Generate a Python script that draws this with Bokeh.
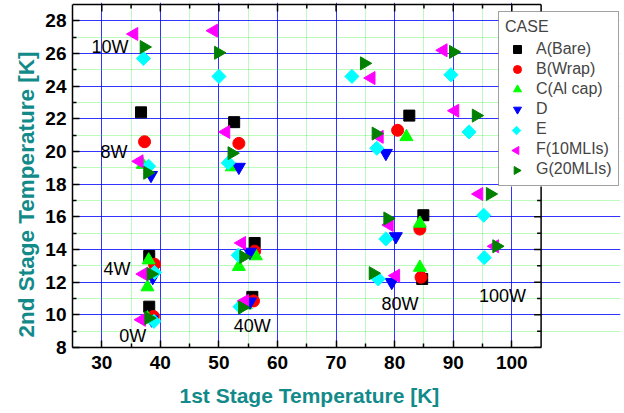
import numpy as np
from bokeh.plotting import figure
from bokeh.models import (FixedTicker, Range1d, Legend, LegendItem, ColumnDataSource, Title)
from bokeh.core.properties import value
from bokeh.embed import file_html
from bokeh.resources import INLINE

# ---- data ----
case_names = ["A(Bare)", "B(Wrap)", "C(Al cap)", "D", "E", "F(10MLIs)", "G(20MLIs)"]

a_x = [38.1, 38.1, 36.7, 52.6, 56.1, 55.7, 82.5, 84.9, 84.7]
a_y = [10.5, 13.6, 22.4, 21.8, 14.4, 11.1, 22.2, 16.1, 12.2]

b_x = [38.8, 39.0, 37.3, 53.4, 56.1, 55.9, 80.5, 84.3, 84.5]
b_y = [9.9, 13.1, 20.6, 20.5, 13.9, 10.85, 21.3, 15.25, 12.3]

c_x = [37.8, 38.0, 37.8, 37.0, 52.2, 56.3, 53.4, 54.6, 82.0, 84.3, 84.3]
c_y = [9.8, 13.35, 11.7, 19.2, 19.05, 13.6, 12.95, 10.6, 20.9, 15.6, 12.9]

d_x = [38.5, 38.7, 38.4, 53.4, 55.3, 55.3, 78.5, 80.2, 79.5]
d_y = [9.7, 12.3, 18.55, 19.05, 13.85, 10.8, 19.9, 14.8, 12.0]

e_x = [38.9, 39.0, 38.0, 37.1, 50.0, 51.6, 53.3, 53.6, 72.7, 76.95, 78.5, 77.2, 89.6, 92.7, 95.2, 95.3]
e_y = [9.6, 12.6, 19.1, 25.7, 24.6, 19.3, 13.65, 10.5, 24.6, 20.2, 14.65, 12.2, 24.7, 21.2, 16.1, 13.5]

f_x = [36.8, 37.1, 36.4, 35.5, 49.1, 51.2, 53.9, 54.4, 76.0, 77.4, 79.1, 80.2, 88.3, 90.3, 94.4, 97.1]
f_y = [9.7, 12.5, 19.4, 27.2, 27.4, 21.2, 14.4, 10.85, 24.5, 20.9, 15.5, 12.4, 26.2, 22.5, 17.4, 14.2]

g_x = [38.0, 38.4, 37.8, 37.2, 49.9, 52.2, 54.2, 54.0, 74.8, 76.8, 78.8, 76.3, 90.0, 93.9, 96.3, 97.4]
g_y = [9.8, 12.5, 18.7, 26.4, 26.05, 19.9, 13.55, 10.45, 25.4, 21.1, 15.9, 12.55, 26.1, 22.2, 17.4, 14.2]

load_labels = ["10W", "8W", "4W", "0W", "40W", "80W", "100W"]
load_label_x = [31.4, 32.1, 32.6, 35.3, 55.7, 80.9, 98.4]
load_label_y = [26.4, 20.0, 12.8, 8.7, 9.3, 10.65, 11.15]

x_label = "1st Stage Temperature [K]"
y_label = "2nd Stage Temperature [K]"

X_MIN, X_MAX = 25, 105
Y_MIN, Y_MAX = 8, 29
x_major = list(range(30, 101, 10))
x_minor = list(range(35, 100, 10))
y_major = list(range(8, 29, 2))
y_minor = list(range(9, 29, 2))

# ---- figure ----
FONT = "Liberation Sans"
TEAL = "#138a8a"

FW, FH = 548, 345
x_end = X_MIN + FW / 5.8575        # frame extends under the legend
y_end = Y_MIN + FH / 16.33
ux = (x_end - X_MIN) / FW          # data units per screen pixel
uy = (y_end - Y_MIN) / FH

p = figure(frame_width=FW, frame_height=FH, output_backend="svg", toolbar_location=None,
           x_range=Range1d(X_MIN, x_end), y_range=Range1d(Y_MIN, y_end),
           min_border_left=72, min_border_right=4, min_border_top=2, min_border_bottom=66,
           background_fill_color="white", border_fill_color="white")
p.outline_line_color = None

xt = FixedTicker(ticks=x_major, minor_ticks=x_minor)
yt = FixedTicker(ticks=y_major, minor_ticks=y_minor)

bottom = p.below[0]
left = p.left[0]
bottom.ticker = xt
left.ticker = yt
bottom.bounds = (X_MIN, X_MAX)
left.bounds = (Y_MIN, Y_MAX)

for ax in [bottom, left]:
    ax.major_tick_in = 7
    ax.major_tick_out = 0
    ax.minor_tick_in = 4
    ax.minor_tick_out = 0
    ax.major_tick_line_color = "black"
    ax.minor_tick_line_color = "black"
    ax.major_tick_line_width = 1.5
    ax.minor_tick_line_width = 1.5
    ax.axis_line_color = "black"
    ax.axis_line_width = 1.5
    ax.major_label_text_font = FONT
    ax.major_label_text_font_style = "bold"
    ax.major_label_text_font_size = "19px"
    ax.major_label_text_color = "black"
bottom.major_label_standoff = 8
left.major_label_standoff = 6

# axis titles, placed like the reference (offset from the frame's start)
p.add_layout(Title(text=x_label, align="left", offset=107, standoff=20,
                   text_font=FONT, text_font_style="bold", text_font_size="21px",
                   text_color=TEAL), "below")
p.add_layout(Title(text=y_label, align="left", offset=10, standoff=8,
                   text_font=FONT, text_font_style="bold", text_font_size="22.5px",
                   text_color=TEAL), "left")

for g, b in [(p.xgrid[0], (Y_MIN, Y_MAX)), (p.ygrid[0], (X_MIN, X_MAX))]:
    g.bounds = b
    g.grid_line_color = "#0000ff"
    g.grid_line_alpha = 0.8
    g.grid_line_width = 1
    g.minor_grid_line_color = "#22ee22"
    g.minor_grid_line_alpha = 0.6
    g.minor_grid_line_dash = "1 1"
    g.minor_grid_line_width = 1
p.xgrid[0].ticker = xt
p.ygrid[0].ticker = yt

# top and right frame edges with inward ticks
p.segment(x0=[X_MIN, X_MAX], y0=[Y_MAX, Y_MIN], x1=[X_MAX, X_MAX], y1=[Y_MAX, Y_MAX],
          line_color="black", line_width=1.5)
p.ray(x=x_major, y=[Y_MAX] * len(x_major), length=7, length_units="screen",
      angle=-np.pi / 2, line_color="black", line_width=1.5)
p.ray(x=x_minor, y=[Y_MAX] * len(x_minor), length=4, length_units="screen",
      angle=-np.pi / 2, line_color="black", line_width=1.5)
p.ray(x=[X_MAX] * len(y_major), y=y_major, length=7, length_units="screen",
      angle=np.pi, line_color="black", line_width=1.5)
p.ray(x=[X_MAX] * len(y_minor), y=y_minor, length=4, length_units="screen",
      angle=np.pi, line_color="black", line_width=1.5)

# ---- markers ----
series = [
    (a_x, a_y, "square", "black", 11, 0.0),
    (b_x, b_y, "circle", "#ff0000", 12, 0.0),
    (c_x, c_y, "triangle", "#00ff00", 13, 0.0),
    (d_x, d_y, "inverted_triangle", "#0000ff", 13, 0.0),
    (e_x, e_y, "square", "#00ffff", 10, np.pi / 4),
    (f_x, f_y, "triangle", "#ff00ff", 13, np.pi / 2),
    (g_x, g_y, "triangle", "#008000", 13, -np.pi / 2),
]

items = []
rotated = []
for name, (xs, ys, marker, color, size, ang) in zip(case_names, series):
    r = p.scatter(x=xs, y=ys, marker=marker, size=size, fill_color=color,
                  line_color=color, angle=ang)
    if ang != 0.0:
        # Bokeh never rotates legend keys: the item gets an empty key and the
        # rotated key shape is drawn under the (transparent) legend below
        key = p.scatter(x=[], y=[], marker="square", fill_color=None, line_color=None)
        items.append(LegendItem(label=name, renderers=[key]))
        rotated.append((len(items) - 1, marker, color, ang))
    else:
        items.append(LegendItem(label=name, renderers=[r]))

# ---- load labels ----
src = ColumnDataSource(dict(x=load_label_x, y=load_label_y, t=load_labels))
p.text(x="x", y="y", text="t", source=src, text_font=value(FONT), text_font_size="18px",
       text_align="center", text_baseline="middle", text_color="black")

# ---- legend ----
LEG_X, LEG_Y, PAD, GW, GH = 426, 161, 6, 24, 20
LEG_W, LEG_H = 123, 175
n_items = len(items)

# white legend background (drawn as a glyph so the rotated keys can sit on it)
p.quad(left=[X_MIN + LEG_X * ux], right=[X_MIN + (LEG_X + LEG_W) * ux],
       bottom=[Y_MIN + LEG_Y * uy], top=[Y_MIN + (LEG_Y + LEG_H) * uy],
       fill_color="white", line_color=None)

key_size = 0.4 * min(GW, GH)
for idx, marker, color, ang in rotated:
    kx = X_MIN + (LEG_X + PAD + GW / 2) * ux
    ky = Y_MIN + (LEG_Y + PAD + GH * (n_items - 1 - idx) + GH / 2) * uy
    ks = key_size * (0.75 if marker == "square" else 1.0)
    p.scatter(x=[kx], y=[ky], marker=marker, size=ks, angle=ang,
              fill_color=color, line_color=color)

legend = Legend(items=items, location=(LEG_X, LEG_Y), title="CASE",
                title_text_font=FONT, title_text_font_style="normal", title_text_font_size="16px",
                label_text_font=FONT, label_text_font_size="16px",
                padding=PAD, glyph_width=GW, glyph_height=GH, label_height=GH, spacing=0,
                label_standoff=7, title_standoff=3,
                border_line_color="#444444", border_line_width=1,
                background_fill_alpha=0.0)
p.add_layout(legend, "center")

open("out.html", "w").write(file_html(p, INLINE))
